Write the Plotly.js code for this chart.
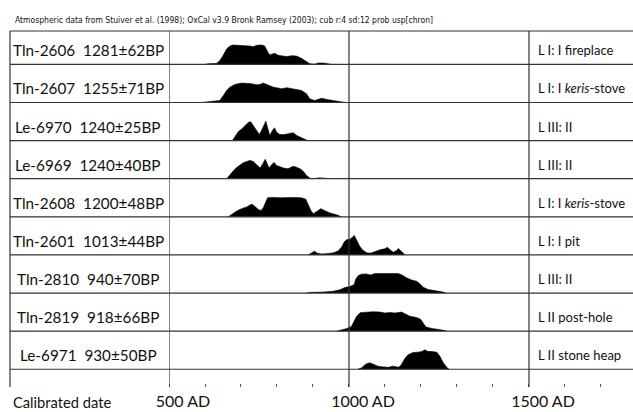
<!DOCTYPE html>
<html>
<head>
<meta charset="utf-8">
<script src="https://cdn.plot.ly/plotly-3.0.1.min.js"></script>
<style>html,body{margin:0;padding:0;background:#fff;}#chart{width:633px;height:412px;}</style>
</head>
<body>
<div id="chart"></div>
<script>
// ---- Data ----
const labIds   = ["Tln-2606", "Tln-2607", "Le-6970", "Le-6969", "Tln-2608", "Tln-2601", "Tln-2810", "Tln-2819", "Le-6971"];
const bpDates  = ["1281±62BP", "1255±71BP", "1240±25BP", "1240±40BP", "1200±48BP", "1013±44BP", "940±70BP", "918±66BP", "930±50BP"];
const contexts = ["L I: I fireplace", "L I: I <i>keris</i>-stove", "L III: II", "L III: II", "L I: I <i>keris</i>-stove", "L I: I pit", "L III: II", "L II post-hole", "L II stone heap"];

// calibrated year AD / relative probability (peak = 1)
const yrs2606 = [600, 609, 632, 641, 651, 660, 669, 678, 692, 711, 725, 734, 743, 757, 766, 774, 780, 787, 794, 803, 815, 827, 841, 854, 868, 882, 891, 905, 915, 929, 942, 952];
const prb2606 = [0, 0.03, 0.05, 0.19, 0.48, 0.79, 0.94, 1.0, 0.98, 0.97, 0.94, 0.91, 0.98, 1.0, 0.94, 0.65, 0.48, 0.53, 0.57, 0.47, 0.43, 0.40, 0.45, 0.43, 0.31, 0.14, 0.03, 0.01, 0.07, 0.07, 0.03, 0];

const yrs2607 = [590, 600, 628, 641, 651, 660, 669, 683, 702, 729, 743, 753, 762, 771, 780, 790, 799, 813, 827, 841, 850, 868, 882, 891, 905, 924, 938, 961, 979, 990];
const prb2607 = [0, 0.02, 0.05, 0.10, 0.36, 0.62, 0.79, 0.93, 1.0, 0.97, 0.91, 0.93, 1.0, 0.93, 0.83, 0.79, 0.76, 0.71, 0.76, 0.71, 0.67, 0.62, 0.45, 0.19, 0.10, 0.22, 0.16, 0.10, 0.03, 0];

const yrs6970 = [676, 683, 693, 702, 711, 720, 727, 734, 744, 751, 757, 764, 769, 774, 780, 786, 793, 799, 808, 820, 833, 845, 855, 867, 878, 885];
const prb6970 = [0, 0.21, 0.47, 0.60, 0.78, 0.93, 0.97, 0.78, 0.47, 0.31, 0.52, 0.78, 1.0, 0.66, 0.26, 0.48, 0.66, 0.43, 0.31, 0.31, 0.34, 0.40, 0.26, 0.17, 0.05, 0];

const yrs6969 = [660, 669, 679, 688, 697, 706, 716, 725, 734, 743, 753, 760, 767, 771, 778, 785, 792, 799, 808, 818, 831, 843, 850, 864, 873, 882, 892, 905, 919, 938, 945];
const prb6969 = [0, 0.21, 0.41, 0.58, 0.72, 0.82, 0.89, 0.94, 0.89, 0.72, 0.55, 0.75, 1.0, 0.85, 0.55, 0.72, 0.84, 0.68, 0.62, 0.55, 0.51, 0.63, 0.62, 0.51, 0.38, 0.17, 0.02, 0.01, 0.05, 0.04, 0];

const yrs2608 = [665, 674, 688, 702, 716, 725, 731, 739, 748, 756, 762, 769, 774, 785, 813, 841, 868, 880, 887, 894, 901, 913, 922, 932, 947, 966, 979];
const prb2608 = [0, 0.12, 0.30, 0.42, 0.51, 0.61, 0.65, 0.53, 0.37, 0.33, 0.47, 0.77, 0.98, 1.0, 0.98, 1.0, 0.98, 0.91, 0.65, 0.33, 0.16, 0.30, 0.42, 0.33, 0.20, 0.10, 0];

const yrs2601 = [887, 896, 904, 912, 924, 943, 958, 970, 980, 987, 994, 1003, 1009, 1015, 1021, 1029, 1038, 1049, 1060, 1072, 1086, 1100, 1107, 1114, 1123, 1131, 1137, 1144, 1151, 1156];
const prb2601 = [0, 0.11, 0.19, 0.09, 0.05, 0.07, 0.11, 0.21, 0.42, 0.68, 0.79, 0.81, 0.91, 1.0, 0.77, 0.47, 0.25, 0.11, 0.09, 0.18, 0.26, 0.32, 0.39, 0.26, 0.14, 0.21, 0.33, 0.21, 0.07, 0];

const yrs2810 = [882, 892, 929, 956, 975, 989, 1003, 1014, 1019, 1026, 1035, 1049, 1060, 1072, 1095, 1114, 1137, 1149, 1160, 1174, 1188, 1197, 1206, 1220, 1240, 1258, 1270];
const prb2810 = [0, 0.03, 0.05, 0.09, 0.17, 0.29, 0.34, 0.43, 0.72, 0.90, 0.97, 0.98, 0.93, 1.0, 1.0, 1.0, 1.0, 0.91, 0.78, 0.67, 0.60, 0.48, 0.30, 0.18, 0.13, 0.06, 0];

const yrs2819 = [966, 980, 995, 1007, 1014, 1021, 1031, 1044, 1068, 1086, 1100, 1114, 1128, 1146, 1156, 1169, 1188, 1199, 1207, 1214, 1230, 1248, 1262, 1271];
const prb2819 = [0, 0.07, 0.14, 0.25, 0.48, 0.75, 0.95, 0.98, 1.0, 0.98, 0.93, 0.96, 0.93, 0.98, 0.89, 0.77, 0.70, 0.61, 0.39, 0.21, 0.14, 0.11, 0.05, 0];

const yrs6971 = [1024, 1035, 1046, 1057, 1068, 1080, 1095, 1110, 1122, 1130, 1138, 1146, 1155, 1164, 1178, 1192, 1202, 1211, 1218, 1230, 1244, 1253, 1262, 1272, 1278];
const prb6971 = [0, 0.07, 0.26, 0.33, 0.26, 0.16, 0.12, 0.10, 0.16, 0.12, 0.10, 0.25, 0.55, 0.74, 0.86, 0.88, 0.91, 1.0, 0.92, 0.91, 0.88, 0.65, 0.33, 0.09, 0];

const axisTickVals = [500, 1000, 1500];
const axisTickText = ["500 AD", "1000 AD", "1500 AD"];
const axisTitle = "Calibrated date";
const headerText = "Atmospheric data from Stuiver et al. (1998); OxCal v3.9 Bronk Ramsey (2003); cub r:4 sd:12 prob usp[chron]";

// ---- Build ----
const yearSets = [yrs2606, yrs2607, yrs6970, yrs6969, yrs2608, yrs2601, yrs2810, yrs2819, yrs6971];
const probSets = [prb2606, prb2607, prb6970, prb6969, prb2608, prb2601, prb2810, prb2819, prb6971];
const n = labIds.length;
const peakH = 0.51;       // fraction of a row used by the peak
const frameLeft = -0.3427; // paper x of the left frame border
const lineCol = '#333';

const traces = yearSets.map((yrs, i) => {
  const base = n - 1 - i;
  return {
    type: 'scatter', mode: 'lines',
    x: yrs, y: probSets[i].map(p => base + p * peakH),
    fill: 'toself', fillcolor: '#000',
    line: {color: '#000', width: 0.6},
    hoverinfo: 'skip', showlegend: false
  };
});

const shapes = [];
for (let k = 0; k < n; k++) {
  shapes.push({type: 'line', xref: 'paper', yref: 'y', x0: frameLeft, x1: 1, y0: k, y1: k, line: {color: lineCol, width: 1.2}});
}
shapes.push({type: 'line', xref: 'paper', yref: 'paper', x0: frameLeft, x1: 1, y0: 1, y1: 1, line: {color: lineCol, width: 1.2}});
shapes.push({type: 'line', xref: 'paper', yref: 'paper', x0: frameLeft, x1: frameLeft, y0: 0, y1: 1, line: {color: lineCol, width: 1.2}});
axisTickVals.forEach(v => {
  shapes.push({type: 'line', xref: 'x', yref: 'paper', x0: v, x1: v, y0: 0, y1: 1, line: {color: lineCol, width: 1.2}});
});

const fontMain = 'Lato, "Open Sans", sans-serif';
const annotations = [];
for (let i = 0; i < n; i++) {
  const base = n - 1 - i;
  annotations.push({xref: 'paper', yref: 'y', x: -0.1735, y: base + 0.37, xanchor: 'center', yanchor: 'middle',
    text: labIds[i] + '\u00a0 ' + bpDates[i], showarrow: false, font: {family: fontMain, size: 15.3, color: '#111'}});
  annotations.push({xref: 'x', yref: 'y', x: 1500, xshift: 7, y: base + 0.37, xanchor: 'left', yanchor: 'middle',
    text: contexts[i], showarrow: false, font: {family: fontMain, size: 13, color: '#111'}});
}
annotations.push({xref: 'paper', yref: 'paper', x: (11 - 169) / 464, y: (387 - 402) / 356, xanchor: 'left', yanchor: 'middle',
  text: axisTitle, showarrow: false, font: {family: fontMain, size: 14.7, color: '#111'}});
annotations.push({xref: 'paper', yref: 'paper', x: (13 - 169) / 464, y: (387 - 19.5) / 356, xanchor: 'left', yanchor: 'middle',
  text: headerText, showarrow: false, font: {family: '"Liberation Sans Narrow", "DejaVu Sans Condensed", sans-serif', size: 8.5, color: '#111'}});

const layout = {
  width: 633, height: 412,
  margin: {l: 169, r: 0, t: 31, b: 25, pad: 0},
  paper_bgcolor: '#fff', plot_bgcolor: '#fff',
  showlegend: false,
  xaxis: {
    range: [500, 1789], showgrid: false, zeroline: false, showline: false,
    tickmode: 'array', tickvals: axisTickVals, ticktext: axisTickText,
    ticks: '', ticklabelshift: 14, ticklabelstandoff: 3,
    tickfont: {family: fontMain, size: 16, color: '#111'},
    minor: {dtick: 100, tick0: 0, ticks: 'inside', ticklen: 3, tickcolor: '#555', tickwidth: 1, showgrid: false}
  },
  yaxis: {range: [-0.466, 8.876], visible: false, fixedrange: true},
  shapes: shapes,
  annotations: annotations
};

Plotly.newPlot('chart', traces, layout, {displayModeBar: false, staticPlot: true});
</script>
</body>
</html>
